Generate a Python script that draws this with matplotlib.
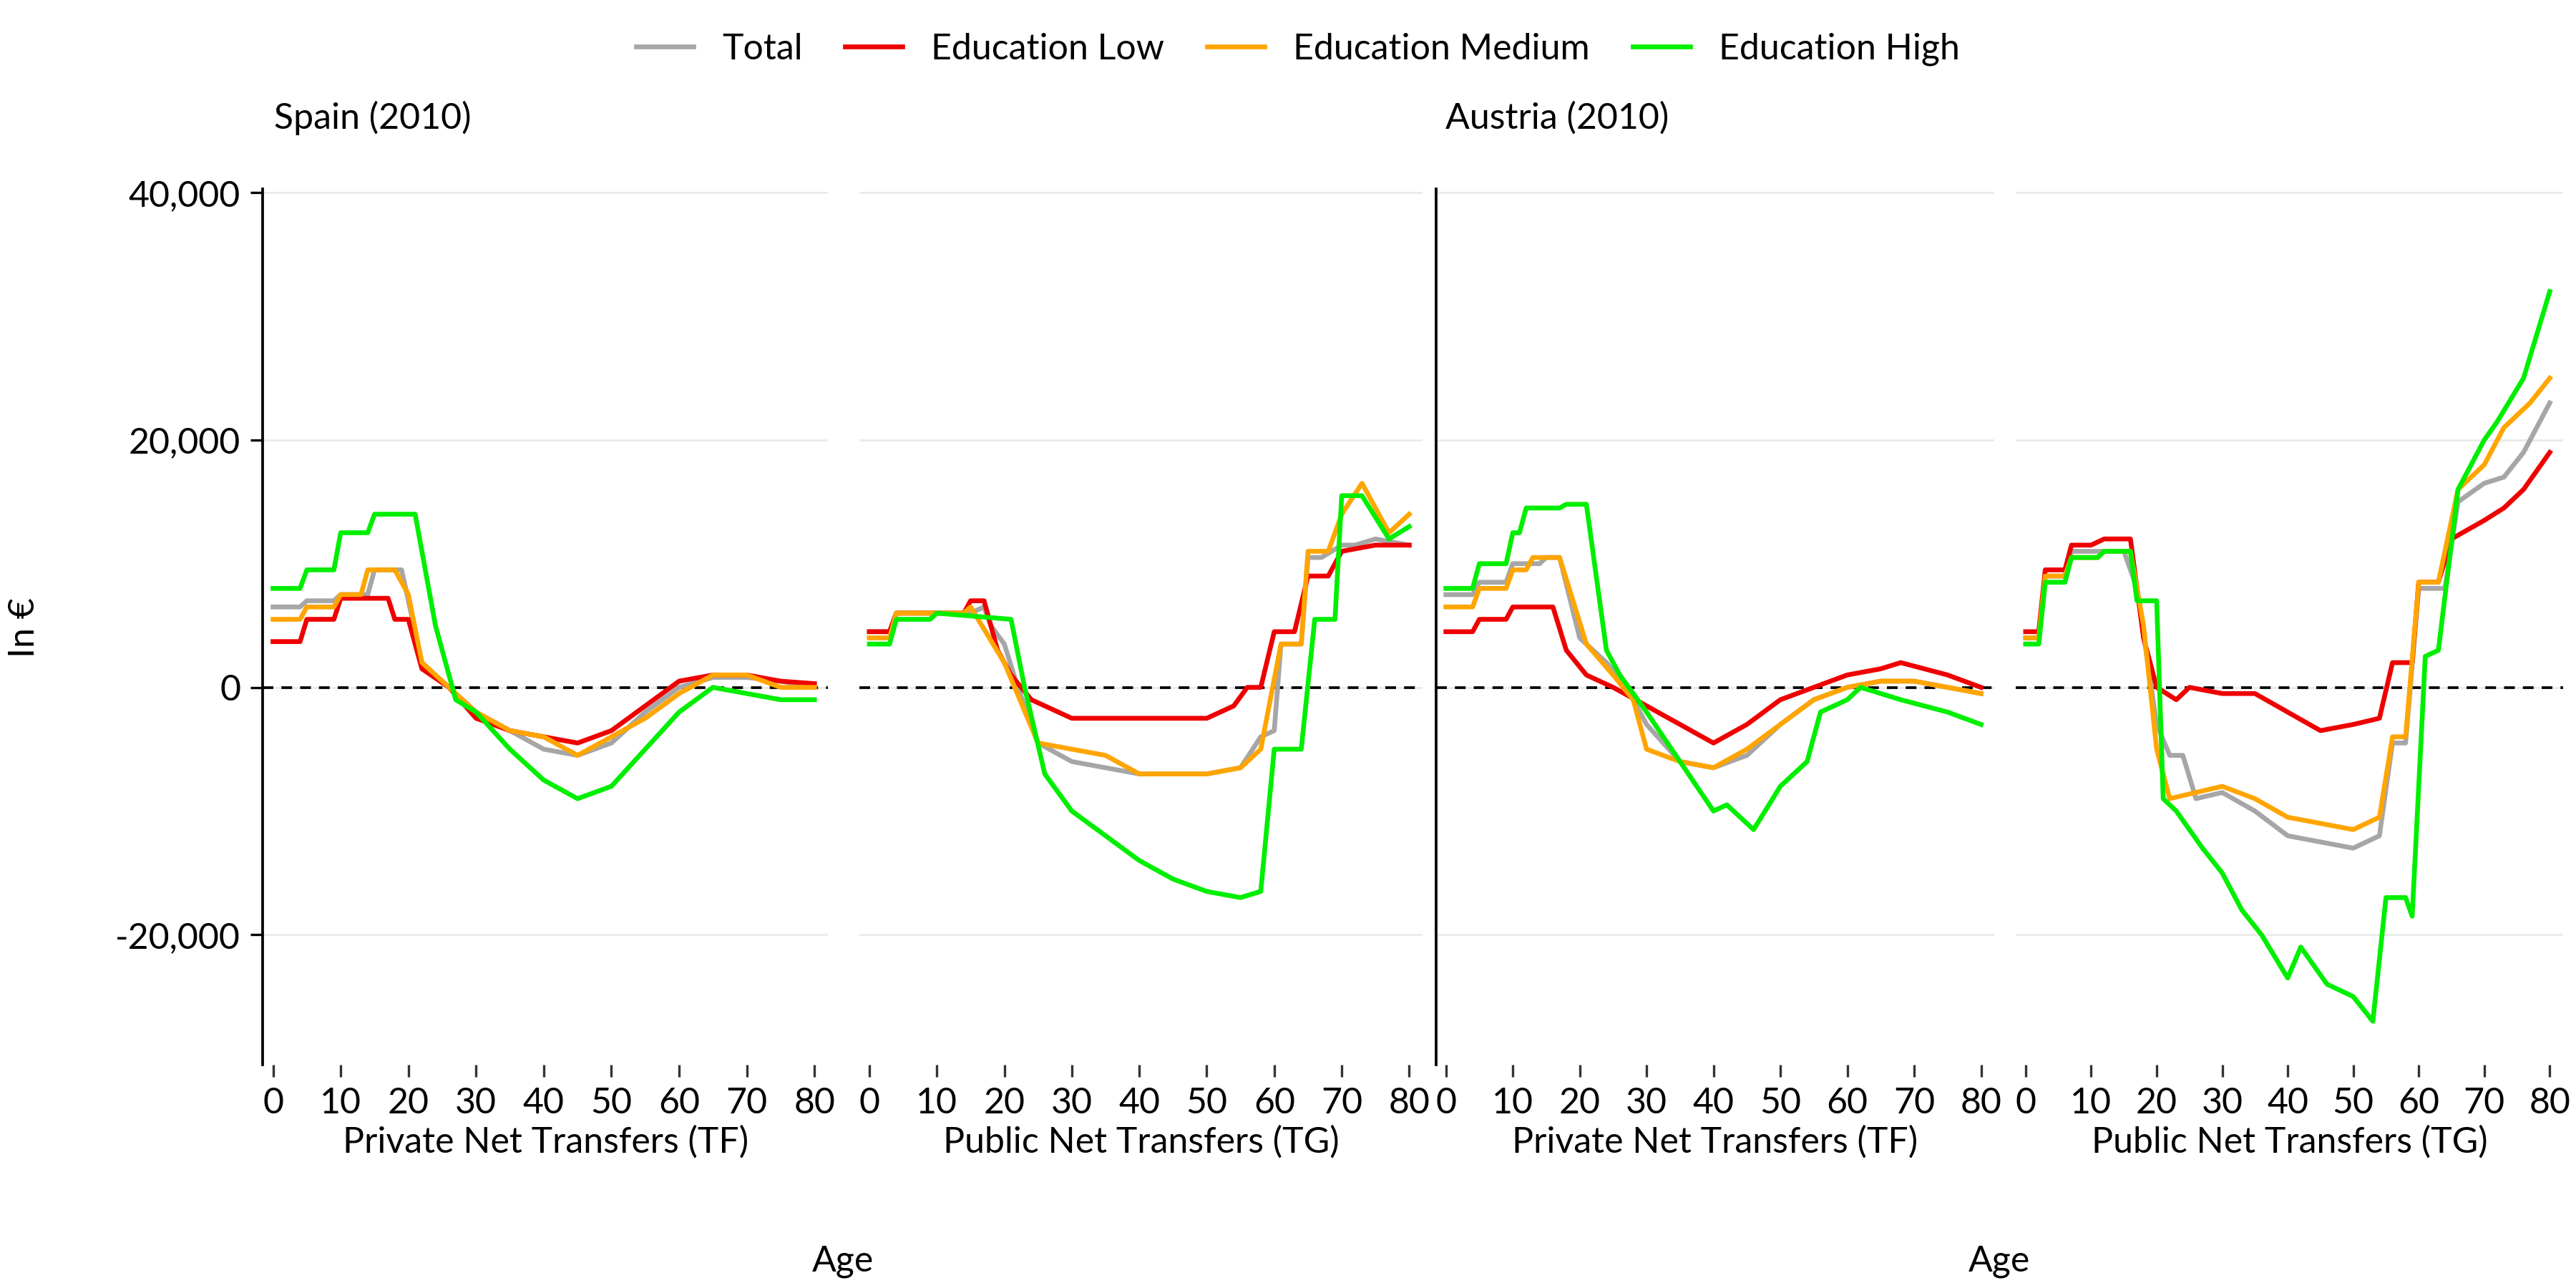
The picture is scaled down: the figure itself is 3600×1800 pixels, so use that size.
import matplotlib
matplotlib.use("Agg")
import matplotlib.pyplot as plt

plt.rcParams["font.family"] = "Lato"

# ---------------------------------------------------------------------------
# Data: breakpoints (age, value in EUR)
# ---------------------------------------------------------------------------
series_names = ["Total", "Education Low", "Education Medium", "Education High"]
series_colors = ["#a6a6a6", "#ee0000", "#ffa500", "#00ee00"]

es_tf_age = {
    "Total": [0, 4, 5, 9, 10, 14, 15, 19, 22, 26, 30, 35, 40, 45, 50, 55, 60, 65, 70, 75, 80],
    "Education Low": [0, 4, 5, 9, 10, 17, 18, 20, 22, 26, 30, 35, 40, 45, 50, 55, 60, 65, 70, 75, 80],
    "Education Medium": [0, 4, 5, 9, 10, 13, 14, 18, 20, 22, 26, 30, 35, 40, 45, 50, 55, 60, 65, 70, 75, 80],
    "Education High": [0, 4, 5, 9, 10, 14, 15, 21, 24, 27, 30, 35, 40, 45, 50, 55, 60, 65, 70, 75, 80],
}
es_tf_val = {
    "Total": [6500, 6500, 7000, 7000, 7500, 7500, 9500, 9500, 2000, 0, -2000, -3500, -5000, -5500, -4500, -2000, 0, 800, 800, 500, 0],
    "Education Low": [3700, 3700, 5500, 5500, 7200, 7200, 5500, 5500, 1500, 0, -2500, -3500, -4000, -4500, -3500, -1500, 500, 1000, 1000, 500, 300],
    "Education Medium": [5500, 5500, 6500, 6500, 7500, 7500, 9500, 9500, 7500, 2000, 0, -2000, -3500, -4000, -5500, -4000, -2500, -500, 1000, 1000, 0, 0],
    "Education High": [8000, 8000, 9500, 9500, 12500, 12500, 14000, 14000, 5000, -1000, -2000, -5000, -7500, -9000, -8000, -5000, -2000, 0, -500, -1000, -1000],
}

es_tg_age = {
    "Total": [0, 3, 4, 15, 17, 18, 20, 22, 25, 30, 35, 40, 45, 50, 55, 58, 60, 61, 64, 65, 67, 70, 72, 75, 80],
    "Education Low": [0, 3, 4, 14, 15, 17, 19, 21, 24, 30, 40, 50, 54, 56, 58, 60, 63, 65, 68, 70, 75, 80],
    "Education Medium": [0, 3, 4, 14, 15, 20, 25, 30, 35, 40, 45, 50, 55, 58, 61, 64, 65, 68, 70, 73, 77, 80],
    "Education High": [0, 3, 4, 9, 10, 21, 23, 26, 30, 35, 40, 45, 50, 55, 58, 60, 64, 66, 69, 70, 73, 77, 80],
}
es_tg_val = {
    "Total": [4500, 4500, 6000, 6000, 6500, 5000, 3500, 0, -4500, -6000, -6500, -7000, -7000, -7000, -6500, -4000, -3500, 3500, 3500, 10500, 10500, 11500, 11500, 12000, 11500],
    "Education Low": [4500, 4500, 6000, 6000, 7000, 7000, 3000, 1000, -1000, -2500, -2500, -2500, -1500, 0, 0, 4500, 4500, 9000, 9000, 11000, 11500, 11500],
    "Education Medium": [4000, 4000, 6000, 6000, 6500, 2000, -4500, -5000, -5500, -7000, -7000, -7000, -6500, -5000, 3500, 3500, 11000, 11000, 14000, 16500, 12500, 14000],
    "Education High": [3500, 3500, 5500, 5500, 6000, 5500, 0, -7000, -10000, -12000, -14000, -15500, -16500, -17000, -16500, -5000, -5000, 5500, 5500, 15500, 15500, 12000, 13000],
}

at_tf_age = {
    "Total": [0, 4, 5, 9, 10, 14, 15, 17, 20, 24, 27, 30, 35, 40, 45, 50, 55, 60, 65, 70, 75, 80],
    "Education Low": [0, 4, 5, 9, 10, 16, 18, 21, 25, 30, 35, 40, 45, 50, 55, 60, 65, 68, 75, 80],
    "Education Medium": [0, 4, 5, 9, 10, 12, 13, 17, 21, 25, 28, 30, 35, 40, 45, 50, 55, 60, 65, 70, 75, 80],
    "Education High": [0, 4, 5, 9, 10, 11, 12, 17, 18, 21, 24, 26, 30, 35, 40, 42, 46, 50, 54, 56, 60, 62, 68, 75, 80],
}
at_tf_val = {
    "Total": [7500, 7500, 8500, 8500, 10000, 10000, 10500, 10500, 4000, 2000, 0, -3000, -6000, -6500, -5500, -3000, -1000, 0, 500, 500, 0, -500],
    "Education Low": [4500, 4500, 5500, 5500, 6500, 6500, 3000, 1000, 0, -1500, -3000, -4500, -3000, -1000, 0, 1000, 1500, 2000, 1000, 0],
    "Education Medium": [6500, 6500, 8000, 8000, 9500, 9500, 10500, 10500, 3500, 1000, -1000, -5000, -6000, -6500, -5000, -3000, -1000, 0, 500, 500, 0, -500],
    "Education High": [8000, 8000, 10000, 10000, 12500, 12500, 14500, 14500, 14800, 14800, 3000, 1000, -2000, -6000, -10000, -9500, -11500, -8000, -6000, -2000, -1000, 0, -1000, -2000, -3000],
}

at_tg_age = {
    "Total": [0, 2, 3, 6, 7, 15, 17, 20, 22, 24, 26, 30, 35, 40, 45, 50, 54, 56, 58, 60, 64, 66, 70, 73, 76, 80],
    "Education Low": [0, 2, 3, 6, 7, 10, 12, 16, 18, 20, 23, 25, 30, 35, 40, 45, 50, 54, 56, 59, 60, 63, 65, 70, 73, 76, 80],
    "Education Medium": [0, 2, 3, 6, 7, 11, 12, 16, 18, 20, 22, 30, 35, 40, 45, 50, 54, 56, 58, 60, 63, 66, 70, 73, 77, 80],
    "Education High": [0, 2, 3, 6, 7, 11, 12, 16, 17, 20, 21, 23, 27, 30, 33, 36, 40, 42, 46, 50, 53, 55, 58, 59, 61, 63, 66, 70, 72, 76, 80],
}
at_tg_val = {
    "Total": [4000, 4000, 9000, 9000, 11000, 11000, 8000, -3000, -5500, -5500, -9000, -8500, -10000, -12000, -12500, -13000, -12000, -4500, -4500, 8000, 8000, 15000, 16500, 17000, 19000, 23000],
    "Education Low": [4500, 4500, 9500, 9500, 11500, 11500, 12000, 12000, 4000, 0, -1000, 0, -500, -500, -2000, -3500, -3000, -2500, 2000, 2000, 8500, 8500, 12000, 13500, 14500, 16000, 19000],
    "Education Medium": [4000, 4000, 9000, 9000, 10500, 10500, 11000, 11000, 5000, -5000, -9000, -8000, -9000, -10500, -11000, -11500, -10500, -4000, -4000, 8500, 8500, 16000, 18000, 21000, 23000, 25000],
    "Education High": [3500, 3500, 8500, 8500, 10500, 10500, 11000, 11000, 7000, 7000, -9000, -10000, -13000, -15000, -18000, -20000, -23500, -21000, -24000, -25000, -27000, -17000, -17000, -18500, 2500, 3000, 16000, 20000, 21500, 25000, 32000],
}

panels = [
    (es_tf_age, es_tf_val, "Private Net Transfers (TF)"),
    (es_tg_age, es_tg_val, "Public Net Transfers (TG)"),
    (at_tf_age, at_tf_val, "Private Net Transfers (TF)"),
    (at_tg_age, at_tg_val, "Public Net Transfers (TG)"),
]

x_ticks = [0, 10, 20, 30, 40, 50, 60, 70, 80]
y_ticks = [-20000, 0, 20000, 40000]
y_labels = ["-20,000", "0", "20,000", "40,000"]

# ---------------------------------------------------------------------------
# Plot
# ---------------------------------------------------------------------------
fig = plt.figure(figsize=(12, 6), dpi=300)
W, H = 1568, 784
lefts = [160, 523, 874, 1227]
widths = [344, 343, 340, 333]
bottom, top = 648, 115

axes = []
for i, (ages, vals, xlabel) in enumerate(panels):
    ax = fig.add_axes([lefts[i] / W, 1 - bottom / H, widths[i] / W, (bottom - top) / H])
    axes.append(ax)
    for name, color in zip(series_names, series_colors):
        ax.plot(ages[name], vals[name], color=color, lw=1.6, label=name, zorder=3)
    ax.axhline(0, color="black", lw=0.9, ls=(0, (4, 3)), zorder=2)
    for yv in y_ticks:
        ax.axhline(yv, color="#ebebeb", lw=0.7, zorder=1)
    ax.set_xlim(-1.5, 82)
    ax.set_ylim(-30500, 40300)
    ax.set_xticks(x_ticks)
    ax.set_xticklabels([str(t) for t in x_ticks], fontsize=12)
    ax.set_xlabel(xlabel, fontsize=12, labelpad=2)
    for s in ["top", "right", "bottom"]:
        ax.spines[s].set_visible(False)
    ax.tick_params(axis="x", length=4, color="#333333")
    if i in (0, 2):
        ax.spines["left"].set_linewidth(0.9)
        ax.set_yticks(y_ticks)
        if i == 0:
            ax.set_yticklabels(y_labels, fontsize=12)
            ax.tick_params(axis="y", length=4)
        else:
            ax.set_yticklabels([])
            ax.tick_params(axis="y", length=0)
    else:
        ax.spines["left"].set_visible(False)
        ax.set_yticks([])

fig.text(167 / W, 1 - 72 / H, "Spain (2010)", fontsize=12, va="center")
fig.text(880 / W, 1 - 72 / H, "Austria (2010)", fontsize=12, va="center")
fig.text(513 / W, 1 - 768 / H, "Age", fontsize=12, ha="center", va="center")
fig.text(1217 / W, 1 - 768 / H, "Age", fontsize=12, ha="center", va="center")
fig.text(15 / W, 1 - 382 / H, "In €", fontsize=12, rotation=90, ha="center", va="center")

handles, labels = axes[0].get_legend_handles_labels()
fig.legend(handles, labels, loc="center", bbox_to_anchor=(790 / W, 1 - 30 / H),
           ncol=4, frameon=False, fontsize=12, handlelength=1.6, columnspacing=1.2)

fig.savefig("out.png", dpi=300)
